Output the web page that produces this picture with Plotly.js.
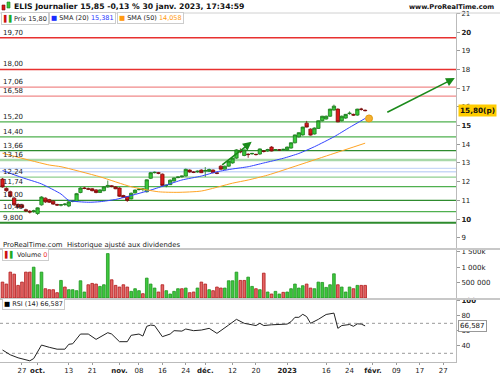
<!DOCTYPE html>
<html><head><meta charset="utf-8">
<script src="https://cdn.plot.ly/plotly-3.0.1.min.js"></script>
<style>html,body{margin:0;padding:0;background:#fff}#chart{width:500px;height:375px}</style>
</head><body><div id="chart"></div>
<script>
// ---------- DATA ----------
const dates = [
'2022-09-20','2022-09-21','2022-09-22','2022-09-23','2022-09-26','2022-09-27','2022-09-28','2022-09-29','2022-09-30',
'2022-10-03','2022-10-04','2022-10-05','2022-10-06','2022-10-07','2022-10-10','2022-10-11','2022-10-12','2022-10-13','2022-10-14',
'2022-10-17','2022-10-18','2022-10-19','2022-10-20','2022-10-21','2022-10-24','2022-10-25','2022-10-26','2022-10-27','2022-10-28',
'2022-10-31','2022-11-01','2022-11-02','2022-11-03','2022-11-04','2022-11-07','2022-11-08','2022-11-09','2022-11-10','2022-11-11',
'2022-11-14','2022-11-15','2022-11-16','2022-11-17','2022-11-18','2022-11-21','2022-11-22','2022-11-23','2022-11-24','2022-11-25',
'2022-11-28','2022-11-29','2022-11-30','2022-12-01','2022-12-02','2022-12-05','2022-12-06','2022-12-07','2022-12-08','2022-12-09',
'2022-12-12','2022-12-13','2022-12-14','2022-12-15','2022-12-16','2022-12-19','2022-12-20','2022-12-21','2022-12-22','2022-12-23',
'2022-12-27','2022-12-28','2022-12-29','2022-12-30','2023-01-02','2023-01-03','2023-01-04','2023-01-05','2023-01-06',
'2023-01-09','2023-01-10','2023-01-11','2023-01-12','2023-01-13','2023-01-16','2023-01-17','2023-01-18','2023-01-19','2023-01-20',
'2023-01-23','2023-01-24','2023-01-25','2023-01-26','2023-01-27','2023-01-30'];
const futureDates = ['2023-01-31','2023-02-01','2023-02-02','2023-02-03','2023-02-06','2023-02-07','2023-02-08','2023-02-09','2023-02-10',
'2023-02-13','2023-02-14','2023-02-15','2023-02-16','2023-02-17','2023-02-20','2023-02-21','2023-02-22','2023-02-23','2023-02-24',
'2023-02-27','2023-02-28','2023-03-01','2023-03-02','2023-03-03'];

const open = [12.14,11.64,11.46,11.12,10.78,10.76,10.50,10.42,10.40,
10.30,10.76,11.12,11.04,10.96,10.78,10.74,10.78,10.70,10.94,
10.95,11.42,11.66,11.62,11.62,11.56,11.42,11.52,11.72,11.78,
11.72,11.66,11.26,11.20,11.08,11.40,11.58,11.58,11.46,12.18,
12.48,12.48,12.40,11.80,11.84,12.04,12.22,12.26,12.30,12.62,
12.52,12.52,12.62,12.56,12.55,12.62,12.47,12.83,12.67,12.83,
13.00,13.26,13.62,13.40,13.47,13.49,13.46,13.48,13.64,13.64,
13.85,13.70,13.70,13.72,13.70,13.80,14.08,14.40,14.50,
15.13,14.81,14.55,14.85,15.26,15.35,15.50,15.83,15.88,15.26,
15.40,15.64,15.60,15.56,15.88,15.82];
const high = [12.20,11.70,11.52,11.18,10.84,10.82,10.56,10.48,10.50,
10.62,11.22,11.16,11.08,11.00,10.82,10.80,10.86,10.96,11.02,
11.40,11.70,11.72,11.68,11.66,11.60,11.60,11.76,12.06,11.82,
11.76,11.70,11.30,11.22,11.42,11.58,11.64,11.66,12.12,12.52,
12.54,12.52,12.44,11.84,12.12,12.22,12.28,12.32,12.70,12.66,
12.56,12.60,12.66,12.78,12.70,12.66,12.50,12.88,12.86,13.12,
13.28,13.74,13.78,13.72,13.52,13.54,13.50,13.78,13.68,13.76,
13.90,13.74,13.74,13.76,13.88,14.10,14.52,14.64,14.94,
15.25,14.85,14.90,15.28,15.52,15.54,15.90,16.12,15.92,15.54,
15.62,15.76,15.64,15.90,15.95,15.86];
const low = [11.68,11.46,11.16,10.70,10.58,10.58,10.38,10.30,10.34,
10.22,10.72,10.86,10.86,10.76,10.70,10.68,10.70,10.64,10.90,
10.92,11.38,11.60,11.55,11.48,11.38,11.40,11.48,11.68,11.70,
11.60,11.18,11.12,10.92,11.05,11.36,11.52,11.48,11.42,12.14,
12.44,12.40,11.76,11.70,11.82,12.00,12.18,12.22,12.28,12.48,
12.46,12.48,12.46,12.25,12.52,12.46,12.40,12.64,12.64,12.80,
12.96,13.22,13.52,13.36,13.28,13.44,13.40,13.44,13.56,13.60,
13.62,13.66,13.66,13.68,13.66,13.76,14.04,14.36,14.46,
14.90,14.46,14.52,14.82,15.22,15.32,15.46,15.80,15.18,15.22,
15.36,15.58,15.52,15.52,15.80,15.76];
const close = [11.72,11.52,11.22,10.76,10.64,10.62,10.44,10.38,10.44,
10.60,11.18,10.92,10.90,10.80,10.75,10.77,10.80,10.92,10.97,
11.36,11.66,11.64,11.60,11.52,11.42,11.56,11.72,11.80,11.74,
11.62,11.22,11.16,11.00,11.38,11.55,11.60,11.61,12.10,12.48,
12.50,12.45,11.80,11.81,12.08,12.20,12.25,12.30,12.66,12.52,
12.50,12.56,12.48,12.60,12.65,12.48,12.45,12.67,12.83,13.10,
13.26,13.70,13.60,13.70,13.45,13.51,13.45,13.75,13.62,13.72,
13.64,13.71,13.70,13.73,13.85,14.08,14.50,14.62,14.92,
14.92,14.49,14.87,15.26,15.50,15.50,15.88,16.04,15.20,15.50,
15.60,15.66,15.56,15.88,15.87,15.80];

// volume in thousands, and bar colour (g = up, r = down)
const volumeK = [516,452,839,774,409,516,839,839,1000,430,839,301,269,269,172,570,355,269,269,237,
559,194,430,473,452,376,430,1441,591,409,355,430,355,215,301,237,140,645,452,323,
194,430,237,129,215,301,301,323,172,194,323,516,452,269,237,355,323,323,559,559,
839,570,570,677,
376,301,269,806,194,129,215,129,183,194,301,452,323,398,452,323,301,516,505,344,
430,785,430,355,194,355,301,409,409,409];
const volumeDir = ['r','r','r','r','r','r','r','r','g','g','g','r','r','r','r','g','r','g','g','g',
'g','g','r','r','r','g','g','g','r','r','r','r','r','g','g','g','r','g','g','g',
'r','r','g','g','g','g','r','g','r','r','g','r','r','g','r','r','r','g','g','g',
'g','r','r','g',
'g','r','g','r','g','r','g','g','r','g','g','g','g','g','r','r','g','g','g','g',
'g','g','r','g','g','g','r','g','r','r'];

const sma20Dates = ['2022-09-20','2022-09-27','2022-10-04','2022-10-11','2022-10-13','2022-10-20','2022-10-25','2022-10-31','2022-11-04',
'2022-11-11','2022-11-17','2022-11-23','2022-11-30','2022-12-06','2022-12-12','2022-12-16','2022-12-22','2022-12-30','2023-01-05',
'2023-01-11','2023-01-18','2023-01-24','2023-01-30'];
const sma20 = [12.60,12.22,11.88,11.34,11.00,10.90,10.93,11.05,11.26,
11.55,11.82,12.09,12.30,12.53,12.68,12.80,13.00,13.25,13.51,
13.87,14.40,14.90,15.381];
const sma50Dates = ['2022-09-20','2022-10-06','2022-10-11','2022-10-25','2022-11-04','2022-11-15','2022-11-22','2022-11-30',
'2022-12-12','2022-12-16','2022-12-23','2023-01-05','2023-01-18','2023-01-30'];
const sma50 = [13.52,12.89,12.80,12.26,11.73,11.46,11.43,11.50,
11.92,12.09,12.35,12.89,13.51,14.058];

const rsiDates = ['2022-09-20','2022-09-22','2022-09-26','2022-09-29','2022-09-30','2022-10-04','2022-10-06','2022-10-10','2022-10-12',
'2022-10-13','2022-10-14','2022-10-18','2022-10-20','2022-10-24','2022-10-27','2022-10-28','2022-11-01','2022-11-03','2022-11-04',
'2022-11-08','2022-11-09','2022-11-10','2022-11-11','2022-11-14','2022-11-16','2022-11-18','2022-11-21','2022-11-23','2022-11-24',
'2022-11-28','2022-11-30','2022-12-02','2022-12-06','2022-12-08','2022-12-09','2022-12-13','2022-12-15','2022-12-16','2022-12-20',
'2022-12-21','2022-12-22','2022-12-27','2022-12-28','2023-01-02','2023-01-03','2023-01-04','2023-01-05','2023-01-06','2023-01-09',
'2023-01-10','2023-01-12','2023-01-13','2023-01-16','2023-01-18','2023-01-19','2023-01-20','2023-01-24','2023-01-25','2023-01-26',
'2023-01-27','2023-01-30'];
const rsi = [34.4,28,24,20,23,41,38,35.5,35.5,
42,42.7,55.7,55.7,48.6,57.5,55.7,45.5,45.5,54,
55.7,53,66,67.7,67,52.2,55.7,60.2,59.6,62.4,
60.2,61,63.3,56.6,63.3,67.7,75.3,70,69,67,
70,67,68,68.5,69,72.2,78,78,82,79,
70,75.3,79,81.8,83.6,63.3,67,68.4,66,69.3,
69,66.587];

const levels = [19.70,18.00,17.06,16.58,15.20,14.40,13.66,13.16,12.24,11.74,11.00,10.40,9.80];
const levelLabels = ['19,70','18,00','17,06','16,58','15,20','14,40','13,66','13,16','12,24','11,74','11,00','10,40','9,800'];
const zoneLevels = [12.71,12.53];

const xTickDates = ['2022-09-27','2022-10-03','2022-10-13','2022-10-21','2022-11-01','2022-11-08','2022-11-16','2022-11-24',
'2022-12-01','2022-12-12','2022-12-20','2023-01-02','2023-01-16','2023-01-24','2023-02-01','2023-02-09','2023-02-17','2023-02-27'];
const xTickText = ['27','<b>oct.</b>','13','21','<b>nov.</b>','08','16','24','<b>déc.</b>','12','20','<b>2023</b>','16','24','<b>févr.</b>','09','17','27'];
const priceTicks = [9,10,11,12,13,14,15,16,17,18,19,20,21];
const priceTickText = ['9','<b>10</b>','11','12','13','14','<b>15</b>','16','17','18','19','<b>20</b>','21'];
const volTicks = [500,1000,1500];
const volTickText = ['500 000','1 000k','1 500k'];
const rsiTicks = [40,60,80,100];
const rsiTickText = ['40','60','80','<b>100</b>'];

const lastPrice = 15.80, lastRsi = 66.587;

// ---------- STYLES ----------
const FONT = 'DejaVu Sans, Verdana, sans-serif';
const levelStyle = [
 ['#e8312f',1.6],['#e8312f',1.6],['#f08a8a',1.2],['#f08a8a',1.2],
 ['#4fb04f',1.2],['#4fb04f',1.2],['#2e8b2e',1.2],['#a8d8a8',2.4],
 ['#8fcf8f',1.2],['#4fb04f',1.2],['#2e8b2e',1.2],['#4fb04f',1.2],['#2e8b2e',2]];
const allDates = dates.concat(futureDates);

// paper helpers (plot area: x 0..456 px, y 0..362 px)
const PW = 456, PH = 362;
const px = v => v / PW, py = v => (PH - v) / PH;

const traces = [
 {type:'scatter', x: allDates, y: allDates.map(()=>null), xaxis:'x', yaxis:'y', hoverinfo:'skip', showlegend:false},
 {type:'candlestick', x: dates, open, high, low, close, xaxis:'x', yaxis:'y',
  increasing:{line:{color:'#1c7a1c',width:0.8}, fillcolor:'#39c839'},
  decreasing:{line:{color:'#7a0a0a',width:0.8}, fillcolor:'#dd1a1a'},
  whiskerwidth:0, hoverinfo:'skip'},
 {type:'scatter', mode:'lines', x: sma20Dates, y: sma20, xaxis:'x', yaxis:'y',
  line:{color:'#3344ff', width:1, shape:'spline', smoothing:0.6}, hoverinfo:'skip'},
 {type:'scatter', mode:'lines', x: sma50Dates, y: sma50, xaxis:'x', yaxis:'y',
  line:{color:'#ffa424', width:1, shape:'spline', smoothing:0.6}, hoverinfo:'skip'},
 {type:'scatter', mode:'markers', x:[futureDates[0]], y:[sma20[sma20.length-1]], xaxis:'x', yaxis:'y',
  marker:{color:'#f4b030', size:7, line:{color:'#e09a10', width:1}}, hoverinfo:'skip'},
 {type:'bar', x: dates, y: volumeK, xaxis:'x', yaxis:'y2', width:0.68,
  marker:{color: volumeDir.map(d => d==='g' ? '#3ec83e' : '#e46464'),
          line:{color: volumeDir.map(d => d==='g' ? '#1f951f' : '#b01c1c'), width:0.8}}, hoverinfo:'skip'},
 {type:'scatter', mode:'lines', x: rsiDates, y: rsi, xaxis:'x', yaxis:'y3',
  line:{color:'#222', width:1}, hoverinfo:'skip'}
];

const shapes = [];
levels.forEach((lv,i) => shapes.push({type:'line', xref:'x domain', x0:0, x1:1, yref:'y', y0:lv, y1:lv,
  line:{color:levelStyle[i][0], width:levelStyle[i][1]}, layer:'below'}));
zoneLevels.forEach(lv => shapes.push({type:'line', xref:'x domain', x0:0, x1:1, yref:'y', y0:lv, y1:lv,
  line:{color:'#c9d9f7', width:1.4}, layer:'below'}));
[70,30].forEach(lv => shapes.push({type:'line', xref:'x domain', x0:0, x1:1, yref:'y3', y0:lv, y1:lv,
  line:{color:'#9a9a9a', width:1, dash:'3px,3px'}, layer:'below'}));
// panel separators and header rule
[[13,'#d0d0d0',1],[249,'#c8c8c8',2],[299,'#c8c8c8',2]].forEach(s => shapes.push({type:'line', xref:'paper', yref:'paper',
  x0:0, x1:500/PW, y0:py(s[0]), y1:py(s[0]), line:{color:s[1], width:s[2]}}));
// small candle icon in title
shapes.push({type:'rect', xref:'paper', yref:'paper', x0:px(2), x1:px(5), y0:py(10), y1:py(5), fillcolor:'#dd1a1a', line:{color:'#7a0a0a',width:0.6}});
shapes.push({type:'rect', xref:'paper', yref:'paper', x0:px(7), x1:px(10), y0:py(8), y1:py(2), fillcolor:'#39c839', line:{color:'#1c7a1c',width:0.6}});

const small = {family: FONT, size: 7, color:'#222'};
const legFont = {family: FONT, size: 6.5, color:'#222'};
const ann = [];
levels.forEach((lv,i) => ann.push({xref:'paper', x:px(2), xanchor:'left', yref:'y', y:lv, yanchor:'bottom',
  text: levelLabels[i], showarrow:false, font: small, borderpad:0}));
ann.push({xref:'paper', yref:'paper', x:px(12), y:py(6.5), xanchor:'left', yanchor:'middle', showarrow:false,
  text:'<b>ELIS Journalier 15,85 -0,13 % 30 janv. 2023, 17:34:59</b>', font:{family:FONT, size:7.7, color:'#111'}});
ann.push({xref:'paper', yref:'paper', x:px(496), y:py(6.5), xanchor:'right', yanchor:'middle', showarrow:false,
  text:'<b>www.ProRealTime.com</b>', font:{family:FONT, size:6.6, color:'#111'}});
const legBox = {bordercolor:'#cccccc', borderwidth:1, bgcolor:'#ffffff', borderpad:1, showarrow:false,
  xref:'paper', yref:'paper', xanchor:'left', yanchor:'middle', font: legFont};
ann.push(Object.assign({}, legBox, {x:px(1), y:py(18.5),
  text:"<span style='color:#cc1111'>▌</span><span style='color:#22aa22'>▌</span>Prix 15,80"}));
ann.push(Object.assign({}, legBox, {x:px(49), y:py(18.5),
  text:"<span style='color:#1a2cff'>■</span> SMA (20) <span style='color:#2233ff'>15,381</span>"}));
ann.push(Object.assign({}, legBox, {x:px(117), y:py(18.5),
  text:"<span style='color:#ff9a10'>■</span> SMA (50) <span style='color:#ff9a10'>14,058</span>"}));
ann.push({xref:'paper', yref:'paper', x:px(1), y:py(245), xanchor:'left', yanchor:'middle', showarrow:false,
  text:'ProRealTime.com  Historique ajusté aux dividendes', font:{family:FONT, size:6.9, color:'#222'}});
ann.push(Object.assign({}, legBox, {x:px(2), y:py(254.5),
  text:"<span style='color:#cc1111'>▌</span><span style='color:#22aa22'>▌</span> Volume <span style='color:#ee3333'>0</span>"}));
ann.push(Object.assign({}, legBox, {x:px(2), y:py(304),
  text:"<span style='color:#000'>■</span> RSI (14) 66,587"}));
ann.push({xref:'paper', x:1.005, xanchor:'left', yref:'y', y:lastPrice, yanchor:'middle', showarrow:false,
  text:'<b>15,80(p)</b>', bgcolor:'#ffcc00', borderpad:1, font:{family:FONT, size:7.3, color:'#111'}});
ann.push({xref:'paper', x:1.005, xanchor:'left', yref:'y3', y:lastRsi, yanchor:'middle', showarrow:false,
  text:'66,587', bgcolor:'#ffffff', bordercolor:'#999', borderwidth:1, borderpad:1, font:{family:FONT, size:7, color:'#111'}});
// trend arrows
[[55.95,12.83,63.9,14.13],[98.3,15.67,116.0,17.54]].forEach(a => ann.push({xref:'x', yref:'y', axref:'x', ayref:'y',
  ax:a[0], ay:a[1], x:a[2], y:a[3], text:'', showarrow:true, arrowhead:2, arrowsize:1.1, arrowwidth:1.6, arrowcolor:'#1a8a1a', standoff:0}));

const axisBase = {showgrid:false, zeroline:false, showline:true, linecolor:'#bbbbbb', ticks:'outside', ticklen:3,
  tickcolor:'#999', tickfont:{family:FONT, size:7, color:'#222'}, fixedrange:true};

const layout = {
  width:500, height:375, margin:{l:0, r:44, t:0, b:13}, paper_bgcolor:'#fff', plot_bgcolor:'#fff',
  showlegend:false, font:{family:FONT, size:7}, boxgap:0.15, boxgroupgap:0,
  xaxis: Object.assign({}, axisBase, {type:'category', categoryorder:'array', categoryarray: allDates,
    range:[-0.64, 116.3], anchor:'y3', tickmode:'array', tickvals: xTickDates, ticktext: xTickText,
    rangeslider:{visible:false}, ticklen:2}),
  yaxis: Object.assign({}, axisBase, {domain:[py(249), py(13)], range:[8.40, 21.02], side:'right', anchor:'x',
    tickmode:'array', tickvals: priceTicks, ticktext: priceTickText}),
  yaxis2: Object.assign({}, axisBase, {domain:[py(298), py(249)], range:[0, 1590], side:'right', anchor:'x',
    tickmode:'array', tickvals: volTicks, ticktext: volTickText}),
  yaxis3: Object.assign({}, axisBase, {domain:[0, py(300)], range:[18.4, 101.1], side:'right', anchor:'x',
    tickmode:'array', tickvals: rsiTicks, ticktext: rsiTickText}),
  shapes, annotations: ann
};

Plotly.newPlot('chart', traces, layout, {staticPlot:true, displayModeBar:false});
</script></body></html>
